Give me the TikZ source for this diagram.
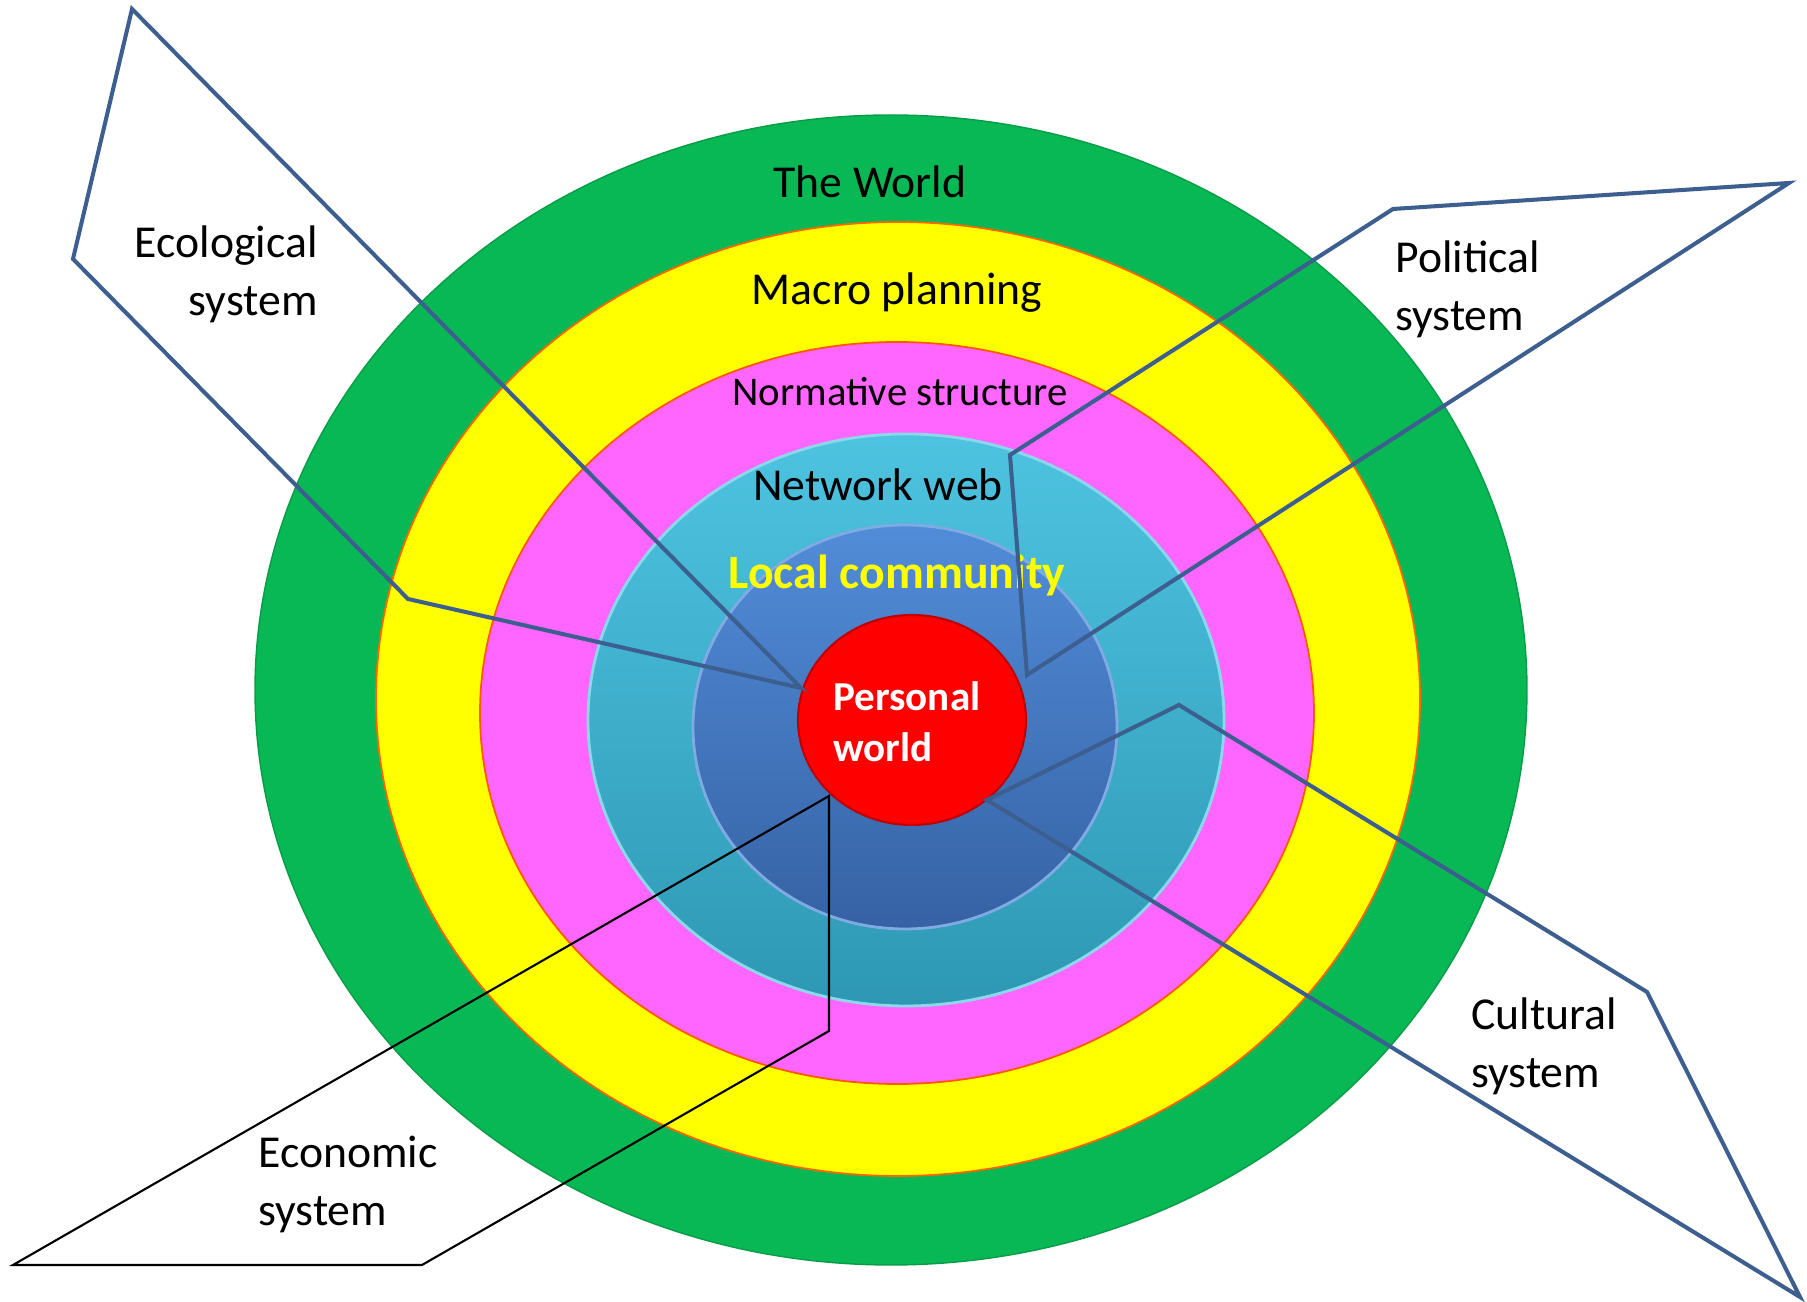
\documentclass[tikz,border=0pt]{standalone}
\usepackage{fontspec}
\setmainfont{Carlito}
\usetikzlibrary{shapes.geometric}

\definecolor{worldgreen}{RGB}{8,184,84}
\definecolor{macroyellow}{RGB}{255,255,0}
\definecolor{normpink}{RGB}{255,102,255}
\definecolor{webcyan}{RGB}{62,190,222}
\definecolor{webcyandark}{RGB}{46,152,180}
\definecolor{localblue}{RGB}{72,134,214}
\definecolor{localbluedark}{RGB}{54,98,164}
\definecolor{calloutblue}{RGB}{61,95,143}

\begin{document}
\begin{tikzpicture} [x = 0.1mm, y = -0.1mm,
    ring/.style = {ellipse,
    inner sep = 0pt},
    ringtext/.style = {font = \fontsize{13}{16.5}\selectfont},
    system/.style = {font = \fontsize{13}{16.5}\selectfont},
    callout/.style = {draw = calloutblue,
    line width = 1.15pt,
    line join = miter}]

\useasboundingbox (0,0) rectangle (1807,1302);

% rings from outside to inside
\node (world) at (891,690) [ring, fill = worldgreen, draw = worldgreen!85!black, line width = 0.4pt,
    minimum width = 127.2mm, minimum height = 115mm] {};
\node (macro) at (898,699) [ring, fill = macroyellow, draw = orange!80!red, line width = 0.5pt,
    minimum width = 104.4mm, minimum height = 95.4mm] {};
\node (norm) at (897,713) [ring, fill = normpink, draw = orange!70!red, line width = 0.5pt,
    minimum width = 83.4mm, minimum height = 74.2mm] {};
\node (web) at (906,720) [ring, top color = webcyan!92!white, bottom color = webcyandark,
    draw = webcyan!60!white, line width = 0.8pt,
    minimum width = 63.6mm, minimum height = 57.2mm] {};
\node (local) at (905,727) [ring, top color = localblue!95!white, bottom color = localbluedark,
    draw = localblue!70!white, line width = 0.8pt,
    minimum width = 42.4mm, minimum height = 40.4mm] {};
\node (personal) at (912,720) [ring, fill = red, draw = red!75!black, line width = 0.6pt,
    minimum width = 22.8mm, minimum height = 21mm] {};

\node (worldtext) at (870,182) [ringtext] {The World};
\node (macrotext) at (897,293) [ringtext] {Macro planning};
\node (normtext) at (900,392) [font = \fontsize{11.6}{14}\selectfont] {Normative structure};
\node (webtext) at (878,485) [ringtext] {Network web};
\node (localtext) at (897,576) [font = \fontsize{13.6}{16.5}\selectfont\bfseries, text = macroyellow] {Local community};
\node (personaltext) at (821,722) [anchor = west, align = left, text = white,
    font = \fontsize{11.7}{14.5}\selectfont\bfseries] {Personal\\world};

% callouts
\coordinate (eco1) at (132,9);
\coordinate (eco2) at (73,259);
\coordinate (eco3) at (408,599);
\coordinate (eco4) at (801,688);
\draw [callout] (eco1) -- (eco2) -- (eco3) -- (eco4) -- cycle;
\node (ecotext) at (330,274) [system, anchor = east, align = right] {Ecological\\system};

\coordinate (pol1) at (1789,183);
\coordinate (pol2) at (1393,209);
\coordinate (pol3) at (1010,455);
\coordinate (pol4) at (1027,675);
\draw [callout] (pol1) -- (pol2) -- (pol3) -- (pol4) -- cycle;
\node (poltext) at (1383,289) [system, anchor = west, align = left] {Political\\system};

\coordinate (cul1) at (1179,705);
\coordinate (cul2) at (1647,992);
\coordinate (cul3) at (1800,1297);
\coordinate (cul4) at (987,800);
\draw [callout] (cul4) -- (cul1) -- (cul2) -- (cul3) -- cycle;
\node (cultext) at (1459,1046) [system, anchor = west, align = left] {Cultural\\system};

\coordinate (eco5) at (829,796);
\coordinate (eco6) at (829,1031);
\coordinate (eco7) at (422,1265);
\coordinate (eco8) at (13,1265);
\draw [black, line width = 0.6pt] (eco5) -- (eco6) -- (eco7) -- (eco8) -- cycle;
\node (econtext) at (246,1184) [system, anchor = west, align = left] {Economic\\system};

\end{tikzpicture}
\end{document}
